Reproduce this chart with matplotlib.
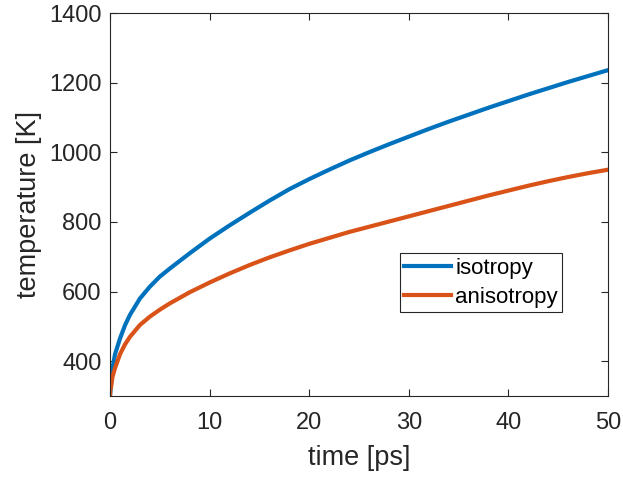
import numpy as np
import matplotlib.pyplot as plt

# temperature histories for the two models
time_iso = [0, 0.25, 0.5, 1, 1.5, 2, 3, 4, 5, 6, 7, 8, 10, 12, 14, 16, 18, 20, 22, 24, 26,
            28, 30, 32, 34, 36, 38, 40, 42, 44, 46, 48, 50]
temp_iso = [300, 380, 420, 465, 503, 533, 580, 614, 643, 666, 688, 710, 752, 790, 826, 861,
            894, 923, 950, 976, 1000, 1023, 1045, 1067, 1088, 1108, 1128, 1147, 1166, 1184,
            1202, 1219, 1236]

time_aniso = [0, 0.05, 0.1, 0.25, 0.5, 1, 1.5, 2, 3, 4, 5, 6, 7, 8, 10, 12, 14, 16, 18, 20,
              22, 24, 26, 28, 30, 32, 34, 36, 38, 40, 42, 44, 46, 48, 50]
temp_aniso = [300, 340, 325, 355, 380, 420, 448, 470, 504, 528, 548, 566, 582, 598, 626, 652,
              676, 698, 718, 737, 754, 771, 786, 801, 816, 831, 846, 861, 876, 890, 904, 917,
              929, 940, 950]

labels = ['isotropy', 'anisotropy']
colours = ['#0072BD', '#D95319']

plt.rcParams['font.family'] = ['Liberation Sans', 'DejaVu Sans']
axis_grey = '#262626'

fig = plt.figure(figsize=(6.23, 4.78), dpi=100)
ax = fig.add_axes([0.1766, 0.1715, 0.7994, 0.8013])

ax.plot(time_iso, temp_iso, color=colours[0], lw=3, label=labels[0])
ax.plot(time_aniso, temp_aniso, color=colours[1], lw=3, label=labels[1])

ax.set_xlim(0, 50)
ax.set_ylim(300, 1400)
ax.set_xticks([0, 10, 20, 30, 40, 50])
ax.set_yticks([400, 600, 800, 1000, 1200, 1400])

for s in ax.spines.values():
    s.set_color(axis_grey)
    s.set_linewidth(0.8)
ax.tick_params(direction='in', length=5, width=0.8, top=True, right=True,
               colors=axis_grey, labelsize=17, labelcolor=axis_grey)
ax.tick_params(axis='x', pad=11.5)
ax.tick_params(axis='y', pad=6)

ax.set_xlabel('time [ps]', fontsize=19.5, color=axis_grey, labelpad=8)
ax.set_ylabel('temperature [K]', fontsize=19.5, color=axis_grey, labelpad=5)

leg = ax.legend(loc='lower left', bbox_to_anchor=(0.582, 0.219), fontsize=16,
                frameon=True, fancybox=False, edgecolor=axis_grey, framealpha=1,
                handlelength=2.1, handletextpad=0.2, borderpad=0.2, labelspacing=0.35,
                borderaxespad=0)
leg.get_frame().set_linewidth(0.8)

fig.savefig('out.png', dpi=100)
